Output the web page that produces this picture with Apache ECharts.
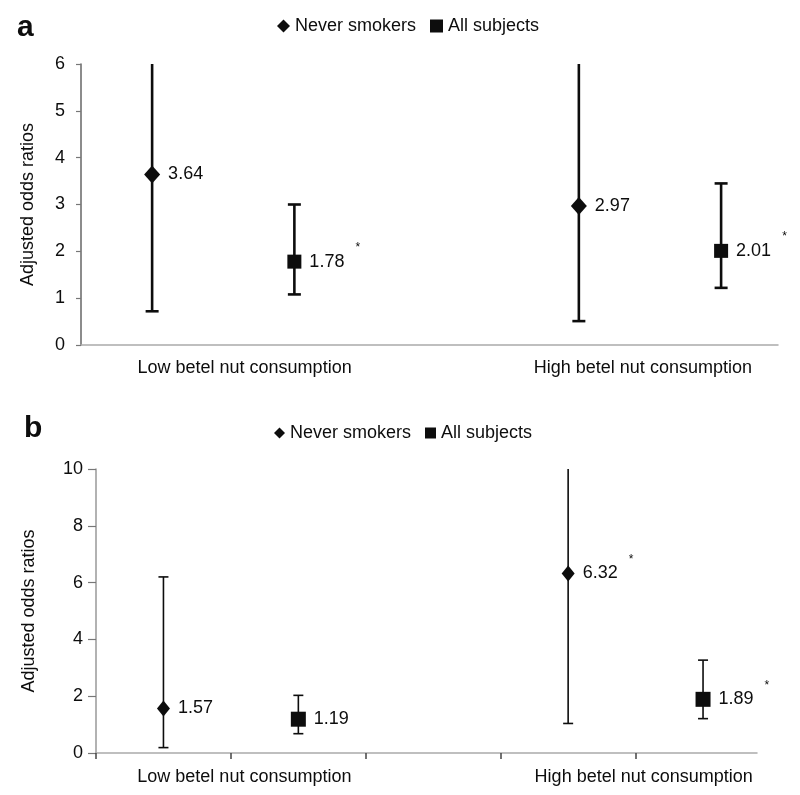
<!DOCTYPE html>
<html><head><meta charset="utf-8">
<script src="https://cdn.jsdelivr.net/npm/echarts@6/dist/echarts.min.js"></script>
<style>html,body{margin:0;padding:0;background:#fff}#c{width:800px;height:795px}</style>
</head><body><div id="c"></div>
<script>
// ---- data ----
const groups = ['Low betel nut consumption', 'High betel nut consumption'];
const seriesNames = ['Never smokers', 'All subjects'];
const panelLetters = ['a', 'b'];
const yTitle = 'Adjusted odds ratios';

// Panel a
const aNeverOR = [3.64, 2.97];
const aNeverLo = [0.72, 0.51];
const aNeverHi = [6, 6];          // interval runs past the top of the axis
const aNeverSig = [false, false];
const aAllOR = [1.78, 2.01];
const aAllLo = [1.08, 1.22];
const aAllHi = [3.0, 3.45];
const aAllSig = [true, true];
const aYTicks = [0, 6, 1];         // min, max, interval

// Panel b
const bNeverOR = [1.57, 6.32];
const bNeverLo = [0.19, 1.04];
const bNeverHi = [6.2, 10];       // high group runs past the top of the axis
const bNeverSig = [false, true];
const bAllOR = [1.19, 1.89];
const bAllLo = [0.68, 1.21];
const bAllHi = [2.03, 3.27];
const bAllSig = [false, true];
const bYTicks = [0, 10, 2];

// ---- chart ----
const FONT = '"Liberation Sans", Arial, Helvetica, sans-serif';
const INK = '#0d0d0d';
const chart = echarts.init(document.getElementById('c'));

function pos(g, s) { return g * 3 + s + 0.5; }

function pointData(or, sig, s) {
  return or.map((v, g) => ({ value: [pos(g, s), v], sig: sig[g] }));
}
function errData(lo, hi, s) {
  return lo.map((v, g) => [pos(g, s), v, hi[g]]);
}
function errRender(lw, capW, yMax) {
  return function (params, api) {
    const x = api.value(0), lo = api.value(1), hi = api.value(2);
    const pLo = api.coord([x, lo]), pHi = api.coord([x, hi]);
    const st = { stroke: INK, lineWidth: lw };
    const ch = [
      { type: 'line', shape: { x1: pLo[0], y1: pLo[1], x2: pHi[0], y2: pHi[1] }, style: st },
      { type: 'line', shape: { x1: pLo[0] - capW / 2, y1: pLo[1], x2: pLo[0] + capW / 2, y2: pLo[1] }, style: st }
    ];
    if (hi < yMax) {
      ch.push({ type: 'line', shape: { x1: pHi[0] - capW / 2, y1: pHi[1], x2: pHi[0] + capW / 2, y2: pHi[1] }, style: st });
    }
    return { type: 'group', children: ch };
  };
}
function labelFmt(p) {
  const t = p.value[1].toFixed(2);
  return p.data.sig ? '{v|' + t + '}{s|*}' : '{v|' + t + '}';
}
const labelRich = {
  v: { fontSize: 18, fontFamily: FONT, color: INK },
  s: { fontSize: 12, fontFamily: FONT, color: INK, verticalAlign: 'top', lineHeight: 40, padding: [0, 0, 0, 11] }
};

const panels = [
  { nOR: aNeverOR, nLo: aNeverLo, nHi: aNeverHi, nSig: aNeverSig,
    sOR: aAllOR, sLo: aAllLo, sHi: aAllHi, sSig: aAllSig, yt: aYTicks,
    lw: 2.6, cap: 13, dSize: [16, 18], sSize: 14,
    grid: { left: 81, top: 64, width: 697, height: 281 },
    labelAt: [1.15, 3.95], showTicks: false, yTick: 5, nameGap: 44, ySpec: '#666', yMargin: 16, xMargin: 14,
    legend: { left: 272, top: 12, iconD: 13, iconS: 13 } },
  { nOR: bNeverOR, nLo: bNeverLo, nHi: bNeverHi, nSig: bNeverSig,
    sOR: bAllOR, sLo: bAllLo, sHi: bAllHi, sSig: bAllSig, yt: bYTicks,
    lw: 1.6, cap: 10, dSize: [13, 16], sSize: 15,
    grid: { left: 96, top: 469, width: 661, height: 284 },
    labelAt: [1.1, 4.06], showTicks: true, yTick: 8, nameGap: 58, ySpec: '#999', yMargin: 13, xMargin: 15,
    legend: { left: 269, top: 419, iconD: 11, iconS: 11 } }
];

const option = {
  backgroundColor: '#fff',
  animation: false,
  textStyle: { fontFamily: FONT },
  title: [
    { text: panelLetters[0], left: 12, top: 8, textStyle: { fontSize: 30, fontWeight: 'bold', color: INK, fontFamily: FONT } },
    { text: panelLetters[1], left: 19, top: 409, textStyle: { fontSize: 30, fontWeight: 'bold', color: INK, fontFamily: FONT } }
  ],
  legend: [], grid: [], xAxis: [], yAxis: [], series: []
};

panels.forEach((P, i) => {
  option.grid.push(P.grid);
  option.legend.push({
    left: P.legend.left, top: P.legend.top, itemGap: 14, itemWidth: P.legend.iconD, itemHeight: P.legend.iconD,
    selectedMode: false,
    textStyle: { fontSize: 18, color: INK, fontFamily: FONT },
    data: [
      { name: seriesNames[0] + (i ? ' ' : ''), icon: 'diamond' },
      { name: seriesNames[1] + (i ? ' ' : ''), icon: 'rect' }
    ],
    formatter: n => n.trim()
  });
  option.xAxis.push({
    type: 'value', gridIndex: i, min: 0, max: 4.9, interval: 1,
    axisLine: { show: true, lineStyle: { color: '#aaa', width: 1.5 } },
    axisTick: { show: P.showTicks, customValues: [0, 1, 2, 3, 4], length: 6, lineStyle: { color: '#444', width: 1.5 } },
    splitLine: { show: false },
    axisLabel: {
      customValues: P.labelAt, margin: P.xMargin,
      fontSize: 18, color: INK, fontFamily: FONT,
      formatter: v => (v < 2.5 ? groups[0] : groups[1])
    }
  });
  option.yAxis.push({
    type: 'value', gridIndex: i, min: P.yt[0], max: P.yt[1], interval: P.yt[2],
    name: yTitle, nameLocation: 'middle', nameGap: P.nameGap,
    nameTextStyle: { fontSize: 18, color: INK, fontFamily: FONT },
    axisLine: { show: true, lineStyle: { color: P.ySpec, width: 1.5 } },
    axisTick: { show: true, length: P.yTick, lineStyle: { color: '#777', width: 1.2 } },
    splitLine: { show: false },
    axisLabel: { fontSize: 18, color: INK, margin: P.yMargin, fontFamily: FONT }
  });
  const nm = j => seriesNames[j] + (i ? ' ' : '');
  option.series.push(
    { type: 'custom', name: 'err-n-' + i, xAxisIndex: i, yAxisIndex: i, z: 2,
      renderItem: errRender(P.lw, P.cap, P.yt[1]), encode: { x: 0, y: [1, 2] }, data: errData(P.nLo, P.nHi, 0) },
    { type: 'custom', name: 'err-s-' + i, xAxisIndex: i, yAxisIndex: i, z: 2,
      renderItem: errRender(P.lw, P.cap, P.yt[1]), encode: { x: 0, y: [1, 2] }, data: errData(P.sLo, P.sHi, 1) },
    { type: 'scatter', name: nm(0), xAxisIndex: i, yAxisIndex: i, z: 5,
      symbol: 'diamond', symbolSize: P.dSize, itemStyle: { color: INK, opacity: 1 },
      label: { show: true, position: 'right', distance: 8, formatter: labelFmt, rich: labelRich },
      data: pointData(P.nOR, P.nSig, 0) },
    { type: 'scatter', name: nm(1), xAxisIndex: i, yAxisIndex: i, z: 5,
      symbol: 'rect', symbolSize: P.sSize, itemStyle: { color: INK, opacity: 1 },
      label: { show: true, position: 'right', distance: 8, formatter: labelFmt, rich: labelRich },
      data: pointData(P.sOR, P.sSig, 1) }
  );
});

chart.setOption(option);
</script>
</body></html>
